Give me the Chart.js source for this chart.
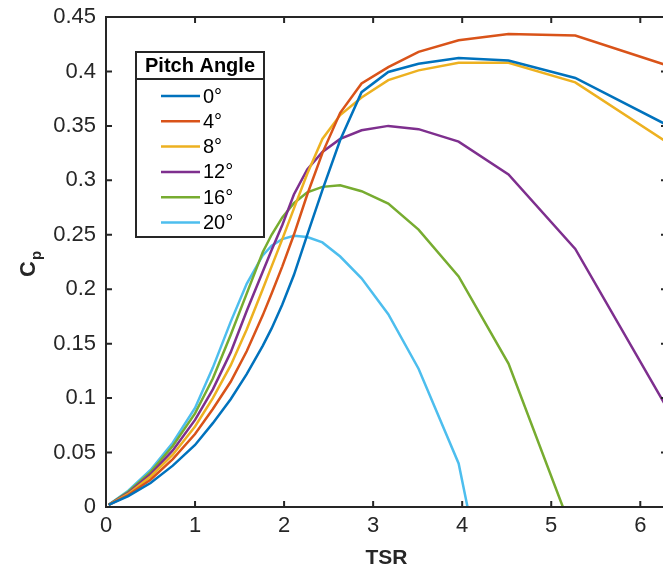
<!DOCTYPE html>
<html>
<head>
<meta charset="utf-8">
<script src="https://cdn.jsdelivr.net/npm/chart.js@4.4.1/dist/chart.umd.min.js"></script>
<style>
  html, body { margin: 0; padding: 0; background: #fff; overflow: hidden; }
  #wrap { width: 700px; height: 571px; }
</style>
</head>
<body>
<div id="wrap"><canvas id="cp" width="700" height="571"></canvas></div>
<script>
// TSR sample points (shared by all curves)
const tsr = [0.03, 0.25, 0.5, 0.75, 1.0, 1.2, 1.4, 1.58, 1.76, 1.86, 1.98, 2.11, 2.26, 2.43, 2.63, 2.87, 3.17, 3.51, 3.96, 4.52, 5.27, 6.32];

const pitch0  = [0.002, 0.010, 0.022, 0.038, 0.057, 0.077, 0.099, 0.122, 0.148, 0.164, 0.186, 0.213, 0.250, 0.291, 0.337, 0.381, 0.3995, 0.407, 0.4123, 0.410, 0.394, 0.350];
const pitch4  = [0.002, 0.011, 0.025, 0.044, 0.067, 0.090, 0.115, 0.143, 0.176, 0.196, 0.221, 0.250, 0.287, 0.325, 0.362, 0.389, 0.404, 0.418, 0.4286, 0.4343, 0.433, 0.405];
const pitch8  = [0.002, 0.012, 0.028, 0.048, 0.074, 0.100, 0.130, 0.163, 0.200, 0.221, 0.246, 0.274, 0.306, 0.338, 0.360, 0.376, 0.392, 0.401, 0.408, 0.408, 0.390, 0.334];
const pitch12 = [0.002, 0.013, 0.030, 0.052, 0.080, 0.108, 0.142, 0.180, 0.216, 0.236, 0.259, 0.287, 0.310, 0.326, 0.338, 0.346, 0.350, 0.347, 0.3355, 0.3055, 0.237, 0.088];
const pitch16 = [0.002, 0.014, 0.032, 0.056, 0.086, 0.118, 0.158, 0.196, 0.234, 0.250, 0.266, 0.279, 0.289, 0.294, 0.2954, 0.290, 0.2786, 0.2547, 0.2118, 0.1317, -0.030, null];
const pitch20 = [0.002, 0.015, 0.034, 0.059, 0.091, 0.128, 0.170, 0.205, 0.231, 0.240, 0.246, 0.249, 0.248, 0.243, 0.230, 0.210, 0.177, 0.127, 0.040, -0.184, null, null];

const labels = ["0°", "4°", "8°", "12°", "16°", "20°"];
const colors = ["#0072BD", "#D95319", "#EDB120", "#7E2F8E", "#77AC30", "#4DBEEE"];
const series = [pitch0, pitch4, pitch8, pitch12, pitch16, pitch20];

const yTicks = [0, 0.05, 0.1, 0.15, 0.2, 0.25, 0.3, 0.35, 0.4, 0.45];
const xTicks = [0, 1, 2, 3, 4, 5, 6];

const axisColor = "#262626";
const fontFam = "'Liberation Sans', Arial, sans-serif";

const datasets = series.map((vals, i) => ({
  label: labels[i],
  data: tsr.map((t, k) => ({ x: t, y: vals[k] })),
  borderColor: colors[i],
  borderWidth: 2.5,
  pointRadius: 0,
  tension: 0,
  fill: false,
  clip: 0,
}));

// box, inward ticks, y title with subscript, legend
const matlabBox = {
  id: "matlabBox",
  afterDatasetsDraw(chart) {
    const { ctx, chartArea: a } = chart;
    const xs = chart.scales.x, ys = chart.scales.y;
    ctx.save();
    ctx.strokeStyle = axisColor;
    ctx.lineWidth = 2;
    ctx.strokeRect(a.left, a.top, a.right - a.left, a.bottom - a.top);
    ctx.beginPath();
    xTicks.forEach((v) => {
      const px = xs.getPixelForValue(v);
      ctx.moveTo(px, a.bottom); ctx.lineTo(px, a.bottom - 6);
      ctx.moveTo(px, a.top); ctx.lineTo(px, a.top + 6);
    });
    yTicks.forEach((v) => {
      const py = ys.getPixelForValue(v);
      ctx.moveTo(a.left, py); ctx.lineTo(a.left + 6, py);
      ctx.moveTo(a.right, py); ctx.lineTo(a.right - 6, py);
    });
    ctx.stroke();

    // y axis title: C with subscript p
    ctx.fillStyle = axisColor;
    ctx.translate(35, 277);
    ctx.rotate(-Math.PI / 2);
    ctx.textBaseline = "alphabetic";
    ctx.textAlign = "left";
    ctx.font = "bold 22px " + fontFam;
    ctx.fillText("C", 0, 0);
    const cw = ctx.measureText("C").width;
    ctx.font = "bold 15px " + fontFam;
    ctx.fillText("p", cw + 1, 6);
    ctx.restore();

    // legend
    ctx.save();
    const L = 136, T = 52, R = 264, B = 237;
    ctx.fillStyle = "#fff";
    ctx.fillRect(L, T, R - L, B - T);
    ctx.strokeStyle = axisColor;
    ctx.lineWidth = 2;
    ctx.strokeRect(L, T, R - L, B - T);
    ctx.beginPath();
    ctx.moveTo(L, 79); ctx.lineTo(R, 79);
    ctx.stroke();
    ctx.fillStyle = "#000";
    ctx.font = "bold 20px " + fontFam;
    ctx.textAlign = "center";
    ctx.textBaseline = "middle";
    ctx.fillText("Pitch Angle", (L + R) / 2, 66);
    ctx.font = "20px " + fontFam;
    ctx.textAlign = "left";
    chart.data.datasets.forEach((ds, i) => {
      const y = 96 + i * 25.3;
      ctx.strokeStyle = ds.borderColor;
      ctx.lineWidth = 2.5;
      ctx.beginPath();
      ctx.moveTo(161, y); ctx.lineTo(200, y);
      ctx.stroke();
      ctx.fillStyle = "#000";
      ctx.fillText(ds.label, 203, y + 1);
    });
    ctx.restore();
  },
};

new Chart(document.getElementById("cp"), {
  type: "line",
  data: { datasets },
  options: {
    responsive: false,
    animation: false,
    devicePixelRatio: 1,
    layout: { padding: { top: 17, right: 33, left: 0, bottom: 0 } },
    plugins: { legend: { display: false }, tooltip: { enabled: false } },
    scales: {
      x: {
        type: "linear",
        min: 0,
        max: 6.3,
        grid: { display: false, drawTicks: false },
        border: { display: false },
        ticks: {
          stepSize: 1,
          includeBounds: false,
          padding: 6,
          color: axisColor,
          font: { family: fontFam, size: 22 },
          maxRotation: 0,
        },
        title: {
          display: true,
          text: "TSR",
          color: axisColor,
          font: { family: fontFam, size: 21, weight: "bold" },
          padding: { top: 0, bottom: 0 },
        },
        afterFit(s) { s.height = 64; s.paddingLeft = 0; s.paddingRight = 0; },
      },
      y: {
        min: 0,
        max: 0.45,
        grid: { display: false, drawTicks: false },
        border: { display: false },
        ticks: {
          stepSize: 0.05,
          padding: 10,
          color: axisColor,
          font: { family: fontFam, size: 22 },
          callback: (v) => String(Number(v.toFixed(2))),
        },
        afterFit(s) { s.width = 106; s.paddingTop = 0; s.paddingBottom = 0; },
      },
    },
  },
  plugins: [matlabBox],
});
</script>
</body>
</html>
